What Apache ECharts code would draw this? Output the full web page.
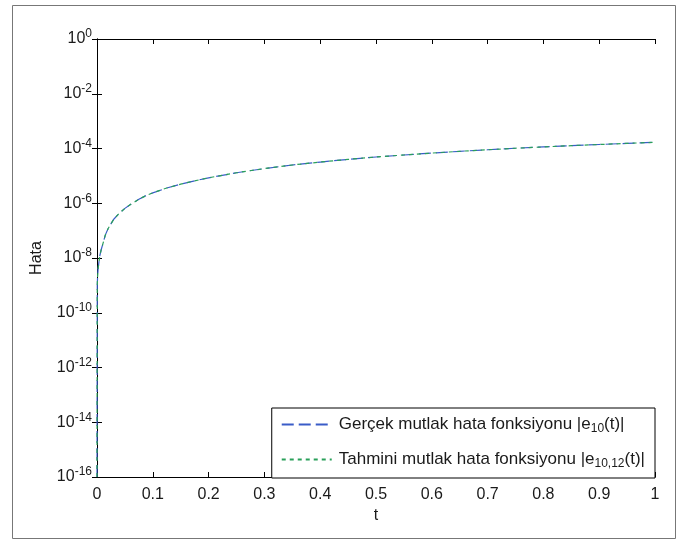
<!DOCTYPE html>
<html>
<head>
<meta charset="utf-8">
<script src="https://cdn.jsdelivr.net/npm/echarts@6/dist/echarts.min.js"></script>
<style>
html,body{margin:0;padding:0;background:#fff;}
#c{width:678px;height:542px;}
</style>
</head>
<body>
<div id="c"></div>
<script>
var tValues = [0, 0.0005, 0.001, 0.002, 0.003, 0.005, 0.0075, 0.01, 0.015, 0.02, 0.03, 0.04, 0.05, 0.06, 0.075, 0.09, 0.1, 0.125, 0.15, 0.175, 0.2, 0.25, 0.3, 0.35, 0.4, 0.45, 0.5, 0.55, 0.6, 0.65, 0.7, 0.75, 0.8, 0.85, 0.9, 0.95, 1.0];
var gercekErr = [1e-16, 1e-9, 2e-9, 4e-9, 6e-9, 1.2e-8, 2e-8, 3e-8, 7e-8, 1.2e-7, 2.6e-7, 4.3e-7, 6.5e-7, 9e-7, 1.4e-6, 2e-6, 2.4e-6, 3.6e-6, 5e-6, 6.6e-6, 8.5e-6, 1.3e-5, 1.85e-5, 2.5e-5, 3.2e-5, 4e-5, 4.9e-5, 5.8e-5, 6.8e-5, 7.9e-5, 9e-5, 1.02e-4, 1.14e-4, 1.27e-4, 1.4e-4, 1.54e-4, 1.68e-4];
var tahminiErr = [1e-16, 1e-9, 2e-9, 4e-9, 6e-9, 1.2e-8, 2e-8, 3e-8, 7e-8, 1.2e-7, 2.6e-7, 4.3e-7, 6.5e-7, 9e-7, 1.4e-6, 2e-6, 2.4e-6, 3.6e-6, 5e-6, 6.6e-6, 8.5e-6, 1.3e-5, 1.85e-5, 2.5e-5, 3.2e-5, 4e-5, 4.9e-5, 5.8e-5, 6.8e-5, 7.9e-5, 9e-5, 1.02e-4, 1.14e-4, 1.27e-4, 1.4e-4, 1.54e-4, 1.68e-4];
var seriesNames = ['Gerçek mutlak hata fonksiyonu |e{sub|10}(t)|', 'Tahmini mutlak hata fonksiyonu |e{sub|10,12}(t)|'];
var xTickLabels = ['0', '0.1', '0.2', '0.3', '0.4', '0.5', '0.6', '0.7', '0.8', '0.9', '1'];
var xAxisName = 't';
var yAxisName = 'Hata';

function pairs(xs, ys){ return xs.map(function(x,i){ return [x, ys[i]]; }); }

var FONT = '"Liberation Sans", Arial, sans-serif';
var TXT = '#1a1a1a';
var chart = echarts.init(document.getElementById('c'), null, {renderer:'canvas'});
var axisLineStyle = {color:'#000', width:1};
chart.setOption({
  animation:false,
  backgroundColor:'#fff',
  graphic:[{type:'rect', shape:{x:12.5, y:5.5, width:663, height:533}, style:{fill:'none', stroke:'#777', lineWidth:1}, silent:true}],
  grid:{left:97, right:23, top:39, bottom:65},
  legend:{
    orient:'vertical', right:23, bottom:64,
    backgroundColor:'#fff', borderColor:'#000', borderWidth:1,
    padding:[8,10,8,9], itemGap:16, itemWidth:50, itemHeight:14,
    data: seriesNames,
    itemStyle:{opacity:0, color:'transparent', borderWidth:0},
    textStyle:{fontFamily:FONT, fontSize:17, color:TXT, padding:[0,0,0,2], rich:{sub:{fontFamily:FONT, fontSize:12, color:TXT, verticalAlign:'bottom', padding:[9,0,0,0]}}}
  },
  xAxis:[{
    type:'value', min:0, max:1, interval:0.1, position:'bottom',
    name:xAxisName, nameLocation:'middle', nameGap:30,
    nameTextStyle:{fontFamily:FONT, fontSize:16, color:TXT},
    axisLine:{show:true, lineStyle:axisLineStyle},
    axisTick:{show:true, inside:true, length:5, lineStyle:axisLineStyle},
    splitLine:{show:false},
    axisLabel:{fontFamily:FONT, fontSize:16, color:TXT, margin:10, formatter:function(v){ var i=Math.round(v*10); return xTickLabels[i]; }}
  },{
    type:'value', min:0, max:1, interval:0.1, position:'top',
    axisLine:{show:true, lineStyle:axisLineStyle},
    axisTick:{show:true, inside:true, length:5, lineStyle:axisLineStyle},
    axisLabel:{show:false}, splitLine:{show:false}
  }],
  yAxis:[{
    type:'log', logBase:10, min:1e-16, max:1, interval:2, position:'left',
    name:yAxisName, nameLocation:'middle', nameGap:52, nameRotate:90,
    nameTextStyle:{fontFamily:FONT, fontSize:16, color:TXT},
    axisLine:{show:true, lineStyle:axisLineStyle},
    axisTick:{show:true, inside:true, length:5, lineStyle:axisLineStyle},
    minorTick:{show:false},
    splitLine:{show:false},
    axisLabel:{fontFamily:FONT, fontSize:16, color:TXT, margin:5,
      formatter:function(v){ var e=Math.round(Math.log10(v)); return '10{sup|'+e+'}'; },
      rich:{sup:{fontFamily:FONT, fontSize:12, color:TXT, verticalAlign:'top', padding:[0,0,10,0]}}}
  },{
    type:'log', logBase:10, min:1e-16, max:1, interval:2, position:'right',
    axisLine:{show:true, lineStyle:axisLineStyle},
    axisTick:{show:true, inside:true, length:5, lineStyle:axisLineStyle},
    axisLabel:{show:false}, splitLine:{show:false}
  }],
  series:[{
    name:seriesNames[0], type:'line', xAxisIndex:0, yAxisIndex:0,
    data:pairs(tValues, gercekErr), showSymbol:false, symbol:'none',
    lineStyle:{color:'#3a5cc8', width:1.2, type:[12,5]}, itemStyle:{color:'#3a5cc8'}
  },{
    name:seriesNames[1], type:'line', xAxisIndex:0, yAxisIndex:0,
    data:pairs(tValues, tahminiErr), showSymbol:false, symbol:'none',
    lineStyle:{color:'#2aa05a', width:1.2, type:[4,4]}, itemStyle:{color:'#2aa05a'}
  }]
});
</script>
</body>
</html>
